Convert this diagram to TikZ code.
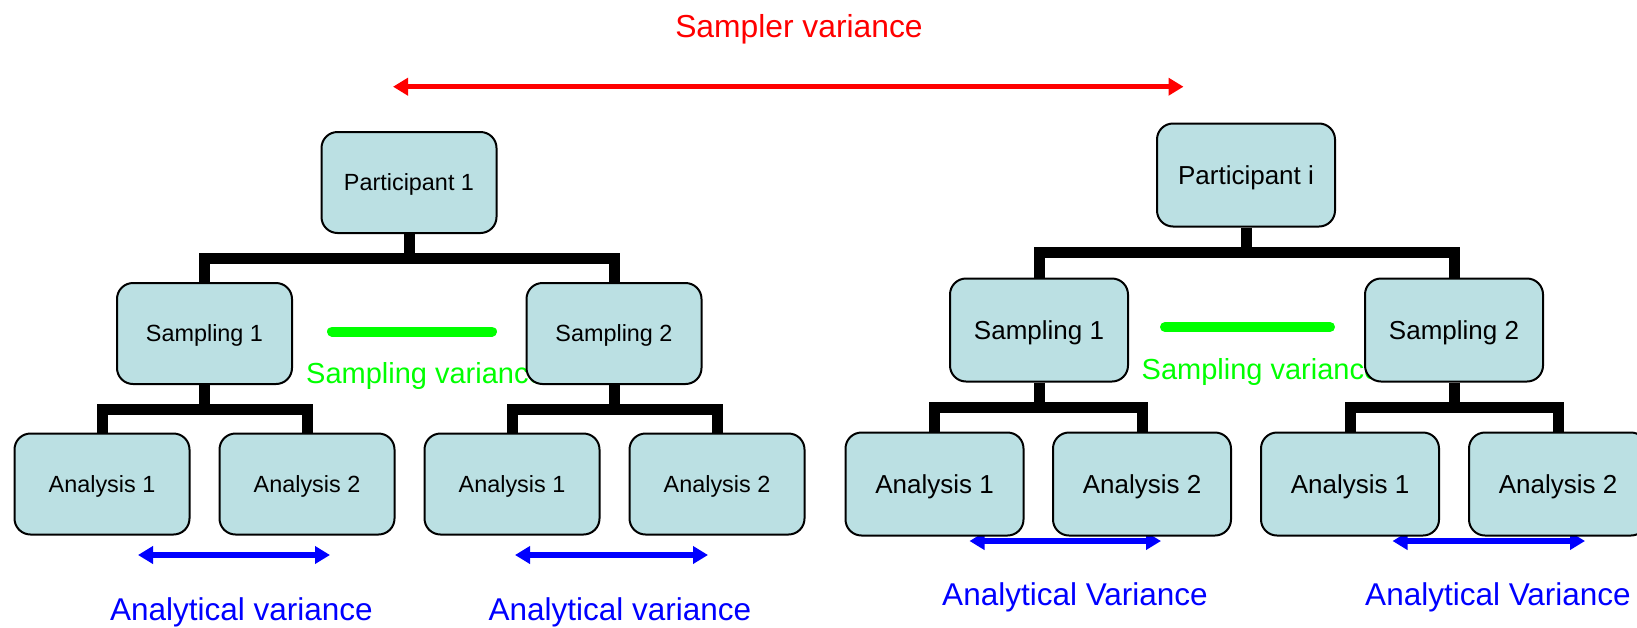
\documentclass[tikz,border=0pt]{standalone}
\usepackage{fontspec}
\setmainfont{Liberation Sans}
\usetikzlibrary{arrows.meta}
\definecolor{boxblue}{RGB}{187,224,227}
\definecolor{vgreen}{RGB}{0,255,0}
\definecolor{vblue}{RGB}{0,0,255}
\definecolor{vred}{RGB}{255,0,0}
\begin{document}
\begin{tikzpicture}[x=1pt,y=-1pt,
  lbox/.style={draw=black, line width=2pt, fill=boxblue, rounded corners=16pt,
    minimum width=175pt, minimum height=101pt, inner sep=0pt, text depth=0pt,
    font=\fontsize{23.4}{28}\selectfont},
  rbox/.style={lbox, minimum width=178pt, minimum height=103pt,
    font=\fontsize{26}{31}\selectfont},
  conn/.style={line width=11pt, line join=miter},
  varrow/.style={line width=5.5pt, {Triangle[length=15pt,width=17pt]}-{Triangle[length=15pt,width=17pt]}},
  gline/.style={draw=vgreen, line width=10pt, line cap=round},
  vlabel/.style={anchor=base, inner sep=0pt},
  glabel/.style={anchor=base west, inner sep=0pt, text=vgreen, font=\fontsize{29}{34}\selectfont},
]
\useasboundingbox (0,0) rectangle (1637,627);

% red sampler variance
\node[vlabel, text=vred, font=\fontsize{31.8}{38}\selectfont] (sv) at (799,37) {Sampler variance};
\coordinate (ra) at (393,86.7);
\coordinate (rb) at (1183.5,86.7);
\draw[varrow, vred] (ra) -- (rb);

% green sampling variance (behind boxes)
\node[glabel] (gl1) at (306,383) {Sampling variance};
\node[glabel] (gl2) at (1141.5,379) {Sampling variance};
\coordinate (g1a) at (332,331.5);
\coordinate (g1b) at (492,331.5);
\coordinate (g2a) at (1165,327);
\coordinate (g2b) at (1330,327);
\draw[gline] (g1a) -- (g1b);
\draw[gline] (g2a) -- (g2b);

% blue analytical variance arrows
\coordinate (b1a) at (138,555);
\coordinate (b1b) at (330,555);
\coordinate (b2a) at (515,555);
\coordinate (b2b) at (708,555);
\coordinate (b3a) at (969.5,541);
\coordinate (b3b) at (1161,541);
\coordinate (b4a) at (1392.5,541);
\coordinate (b4b) at (1585,541);
\draw[varrow, vblue] (b1a) -- (b1b);
\draw[varrow, vblue] (b2a) -- (b2b);
\draw[varrow, vblue] (b3a) -- (b3b);
\draw[varrow, vblue] (b4a) -- (b4b);
\node[vlabel, text=vblue, font=\fontsize{31.5}{38}\selectfont] (av1) at (241.5,620) {Analytical variance};
\node[vlabel, text=vblue, font=\fontsize{31.5}{38}\selectfont] (av2) at (620,620) {Analytical variance};
\node[vlabel, text=vblue, font=\fontsize{31.5}{38}\selectfont] (av3) at (1075,605) {Analytical Variance};
\node[vlabel, text=vblue, font=\fontsize{31.5}{38}\selectfont] (av4) at (1498,605) {Analytical Variance};

% left tree
\node[lbox] (lp) at (409,182.5) {Participant 1};
\node[lbox] (ls1) at (204.5,333.5) {Sampling 1};
\node[lbox] (ls2) at (614,333.5) {Sampling 2};
\node[lbox] (la1) at (102,484) {Analysis 1};
\node[lbox] (la2) at (307,484) {Analysis 2};
\node[lbox] (la3) at (512,484) {Analysis 1};
\node[lbox] (la4) at (717,484) {Analysis 2};

% right tree
\node[rbox] (rp) at (1246,175) {Participant i};
\node[rbox] (rs1) at (1039,330) {Sampling 1};
\node[rbox] (rs2) at (1454,330) {Sampling 2};
\node[rbox] (ra1) at (934.5,484) {Analysis 1};
\node[rbox] (ra2) at (1142,484) {Analysis 2};
\node[rbox] (ra3) at (1350,484) {Analysis 1};
\node[rbox] (ra4) at (1558,484) {Analysis 2};

% connectors
\coordinate (lj1) at (409,258.5);
\coordinate (lj2) at (204.5,409);
\coordinate (lj3) at (614,409);
\draw[conn] (ls1.north) |- (lj1) -| (ls2.north);
\draw[conn] (lp.south) -- (lj1);
\draw[conn] (la1.north) |- (lj2) -| (la2.north);
\draw[conn] (ls1.south) -- (lj2);
\draw[conn] (la3.north) |- (lj3) -| (la4.north);
\draw[conn] (ls2.south) -- (lj3);

\coordinate (rj1) at (1246,252.5);
\coordinate (rj2) at (1039,407.5);
\coordinate (rj3) at (1454,407.5);
\draw[conn] (rs1.north) |- (rj1) -| (rs2.north);
\draw[conn] (rp.south) -- (rj1);
\draw[conn] (ra1.north) |- (rj2) -| (ra2.north);
\draw[conn] (rs1.south) -- (rj2);
\draw[conn] (ra3.north) |- (rj3) -| (ra4.north);
\draw[conn] (rs2.south) -- (rj3);
\end{tikzpicture}
\end{document}
